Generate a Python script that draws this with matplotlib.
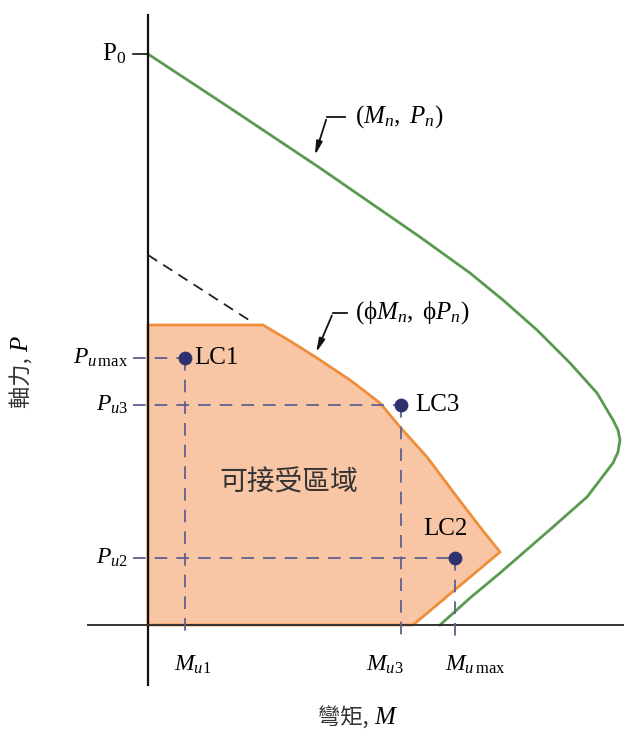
import matplotlib.pyplot as plt
from matplotlib.patches import Polygon

plt.rcParams['font.family'] = ['Liberation Serif', 'Noto Sans CJK TC', 'DejaVu Sans']
plt.rcParams['mathtext.fontset'] = 'custom'
plt.rcParams['mathtext.rm'] = 'Liberation Serif'
plt.rcParams['mathtext.it'] = 'Liberation Serif:italic'

# nominal interaction curve (Mn, Pn)
mn = [0, 82, 172, 272, 322, 355, 389, 422, 449, 465, 470, 472, 470, 465, 439, 405, 352, 322, 292]
pn = [571, 517, 457, 388, 352, 325, 295, 262, 232, 205, 195, 185, 173, 162, 128, 98, 52, 27, 0]

# design curve (phi Mn, phi Pn), cut off at the max axial load
phi_m = [0, 0, 115, 142, 169, 202, 232, 252, 279, 309, 332, 352, 265]
phi_p = [0, 300, 300, 284, 267, 245, 222, 198, 168, 128, 98, 73, 0]

# phi Pn curve above the cap
cap_m = [0, 104]
cap_p = [370, 303]

# load cases
cases = ['LC1', 'LC3', 'LC2']
mu = [37, 253, 307]
pu = [267, 220, 67]
p0 = 571

fig = plt.figure(figsize=(6.24, 7.33), dpi=100)
ax = fig.add_axes([0, 0, 1, 1])
ax.set_xlim(-148, 476)
ax.set_ylim(-108, 625)
ax.axis('off')

ax.add_patch(Polygon(list(zip(phi_m, phi_p)), closed=True, facecolor='#f8c6a4',
                     edgecolor='#ef8d3a', lw=2.0, zorder=2))
ax.plot(cap_m, cap_p, color='#222222', lw=1.3, ls=(0, (6, 4)), zorder=2)
ax.plot(mn, pn, color='#5a9a50', lw=2.0, zorder=3)

# axes
ax.plot([0, 0], [-60, 610], color='#111111', lw=1.6, zorder=4)
ax.plot([-60, 476], [0, 0], color='#333333', lw=1.4, zorder=4)
ax.plot([-15, 0], [p0, p0], color='#111111', lw=1.2, zorder=4)

dash = '#5c6190'
for m, p in zip(mu, pu):
    ax.plot([-15, m], [p, p], color=dash, lw=1.3, ls=(0, (7, 5)), zorder=4)
    ax.plot([m, m], [p, -12], color=dash, lw=1.3, ls=(0, (7, 5)), zorder=4)
ax.scatter(mu, pu, s=80, color='#2e3170', zorder=5)

ax.text(mu[0] + 9, pu[0], cases[0], fontsize=18, va='center', ha='left')
ax.text(mu[1] + 14, pu[1], cases[1], fontsize=18, va='center', ha='left')
ax.text(mu[2] - 10, pu[2] + 29, cases[2], fontsize=18, va='center', ha='center')

# tick labels
ax.text(-22, p0, r'$\mathrm{P}_0$', fontsize=18, ha='right', va='center')
ax.text(-20, pu[0], r'$P_{u\,\mathrm{max}}$', fontsize=17, ha='right', va='center')
ax.text(-20, pu[1], r'$P_{u3}$', fontsize=17, ha='right', va='center')
ax.text(-20, pu[2], r'$P_{u2}$', fontsize=17, ha='right', va='center')
ax.text(mu[0] + 8, -40, r'$M_{u1}$', fontsize=17, ha='center', va='center')
ax.text(mu[1] - 16, -40, r'$M_{u3}$', fontsize=17, ha='center', va='center')
ax.text(mu[2] + 20, -40, r'$M_{u\,\mathrm{max}}$', fontsize=17, ha='center', va='center')

ax.text(141, 142, '可接受區域', fontsize=20, ha='center', va='center',
        family=['Noto Sans CJK TC'], color='#333333')

# curve labels with leader arrows
ax.plot([197, 179], [508, 508], color='#111111', lw=1.3)
ax.annotate('', xy=(166, 467), xytext=(179, 508),
            arrowprops=dict(arrowstyle='-|>,head_length=0.8,head_width=0.18',
                            color='#111111', lw=1.3))
ax.text(207, 508, r'$(M_n,\ P_n)$', fontsize=18, ha='left', va='center')

ax.plot([199, 185], [312, 312], color='#111111', lw=1.3)
ax.annotate('', xy=(167, 270), xytext=(185, 312),
            arrowprops=dict(arrowstyle='-|>,head_length=0.8,head_width=0.18',
                            color='#111111', lw=1.3))
ax.text(207, 312, r'$(\mathrm{\phi}M_n,\ \mathrm{\phi}P_n)$', fontsize=18, ha='left', va='center')

# axis titles: CJK part and italic symbol drawn separately
cjk = ['Noto Sans CJK TC']
ax.text(226, -93, '彎矩, ', fontsize=16, ha='right', va='center', family=cjk, color='#333333')
ax.text(226, -93, 'M', fontsize=18, ha='left', va='center', style='italic')
ax.text(-126, 273, '軸力, ', fontsize=16, ha='center', va='top', rotation=90,
        family=cjk, color='#333333')
ax.text(-126, 273, 'P', fontsize=18, ha='center', va='bottom', rotation=90, style='italic')

fig.savefig('out.png', dpi=100)
